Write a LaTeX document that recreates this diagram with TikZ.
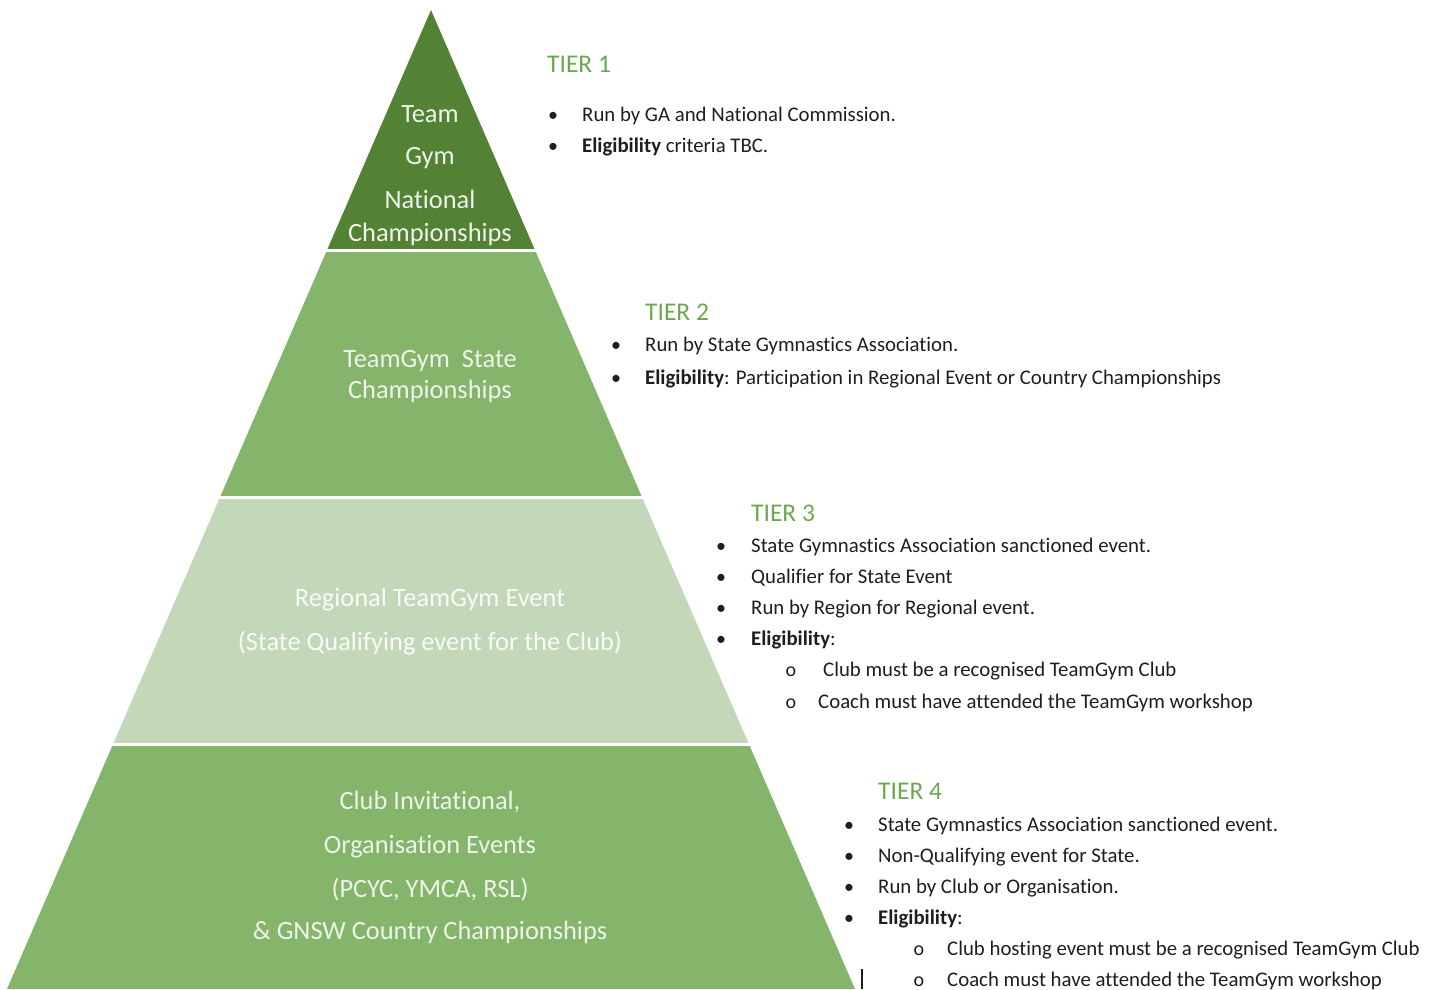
\documentclass[tikz,border=0pt]{standalone}
\usepackage{fontspec}
\setmainfont{Carlito}[Ligatures=NoCommon]
\usetikzlibrary{calc}

\definecolor{tierdark}{HTML}{548235}
\definecolor{tiermid}{HTML}{84B56A}
\definecolor{tierlight}{HTML}{C3D7B9}
\definecolor{tierhead}{HTML}{6AA84F}
\definecolor{bodytext}{HTML}{1E1E1E}

\tikzset{
  pyrtext/.style={anchor=base, inner sep=0pt, text=white!90!tierdark,
                  font=\fontsize{26.4}{26.4}\selectfont},
  tierhead/.style={anchor=base west, inner sep=0pt, text=tierhead,
                   font=\fontsize{25.5}{25.5}\selectfont},
  item/.style={anchor=base west, inner sep=0pt, text=bodytext,
               font=\fontsize{20.8}{20.8}\selectfont},
  bulletdot/.style={anchor=base, inner sep=0pt, text=bodytext,
                    font=\fontsize{20}{20}\selectfont}
}

\begin{document}
\begin{tikzpicture}[x=1pt, y=-1pt]
  \useasboundingbox (0,0) rectangle (1434,989);

  \coordinate (apex) at (431,10);
  \coordinate (bl) at (7,989);
  \coordinate (br) at (855,989);

  % pyramid tiers
  \foreach \a/\b/\col in {0/0.2441/tierdark, 0.2472/0.4964/tiermid,
                          0.4995/0.7487/tierlight, 0.7518/1/tiermid}
    \fill [\col] ($(apex)!\a!(bl)$) -- ($(apex)!\a!(br)$)
                 -- ($(apex)!\b!(br)$) -- ($(apex)!\b!(bl)$) -- cycle;

  % texts inside the pyramid
  \foreach \y/\t [count=\i] in {122/Team, 164/Gym, 208/National, 241/Championships}
    \node [pyrtext] (tone-\i) at (430,\y) {\t};
  \foreach \y/\t [count=\i] in {367/TeamGym\ \ State, 398/Championships}
    \node [pyrtext] (ttwo-\i) at (430,\y) {\t};
  \foreach \y/\t [count=\i] in {606/Regional TeamGym Event,
                                650/(State Qualifying event for the Club)}
    \node [pyrtext, text=white!90!tierlight] (tthree-\i) at (430,\y) {\t};
  \foreach \y/\t [count=\i] in {809/{Club Invitational,}, 853/Organisation Events,
                                897/{(PCYC, YMCA, RSL)},
                                939/\& GNSW Country Championships}
    \node [pyrtext] (tfour-\i) at (430,\y) {\t};

  % tier 1
  \node [tierhead] (hone) at (547,72) {TIER 1};
  \foreach \y/\t [count=\i] in {121/Run by GA and National Commission.,
                                152/\textbf{Eligibility} criteria TBC.}{
    \node [bulletdot] (bone-\i) at (553,\y) {\textbullet};
    \node [item] (ione-\i) at (582,\y) {\t};
  }

  % tier 2
  \node [tierhead] (htwo) at (645,320) {TIER 2};
  \foreach \y/\t [count=\i] in {351/Run by State Gymnastics Association.,
      384/\textbf{Eligibility}: Participation in Regional Event or Country Championships}{
    \node [bulletdot] (btwo-\i) at (616,\y) {\textbullet};
    \node [item] (itwo-\i) at (645,\y) {\t};
  }

  % tier 3
  \node [tierhead] (hthree) at (751,521) {TIER 3};
  \foreach \y/\t [count=\i] in {552/State Gymnastics Association sanctioned event.,
                                583/Qualifier for State Event,
                                614/Run by Region for Regional event.,
                                645/\textbf{Eligibility}:}{
    \node [bulletdot] (bthree-\i) at (721,\y) {\textbullet};
    \node [item] (ithree-\i) at (751,\y) {\t};
  }
  \node [bulletdot] (sthree-1) at (791,676) {o};
  \node [item] (jthree-1) at (823,676) {Club must be a recognised TeamGym Club};
  \node [bulletdot] (sthree-2) at (791,708) {o};
  \node [item] (jthree-2) at (818,708) {Coach must have attended the TeamGym workshop};

  % tier 4
  \node [tierhead] (hfour) at (878,799) {TIER 4};
  \foreach \y/\t [count=\i] in {831/State Gymnastics Association sanctioned event.,
                                862/Non-Qualifying event for State.,
                                893/Run by Club or Organisation.,
                                924/\textbf{Eligibility}:}{
    \node [bulletdot] (bfour-\i) at (849,\y) {\textbullet};
    \node [item] (ifour-\i) at (878,\y) {\t};
  }
  \node [bulletdot] (sfour-1) at (919,955) {o};
  \node [item] (jfour-1) at (947,955) {Club hosting event must be a recognised TeamGym Club};
  \node [bulletdot] (sfour-2) at (919,986) {o};
  \node [item] (jfour-2) at (947,986) {Coach must have attended the TeamGym workshop};

  \draw [bodytext, line width=1.5pt] (862,969) -- (862,989);
\end{tikzpicture}
\end{document}
